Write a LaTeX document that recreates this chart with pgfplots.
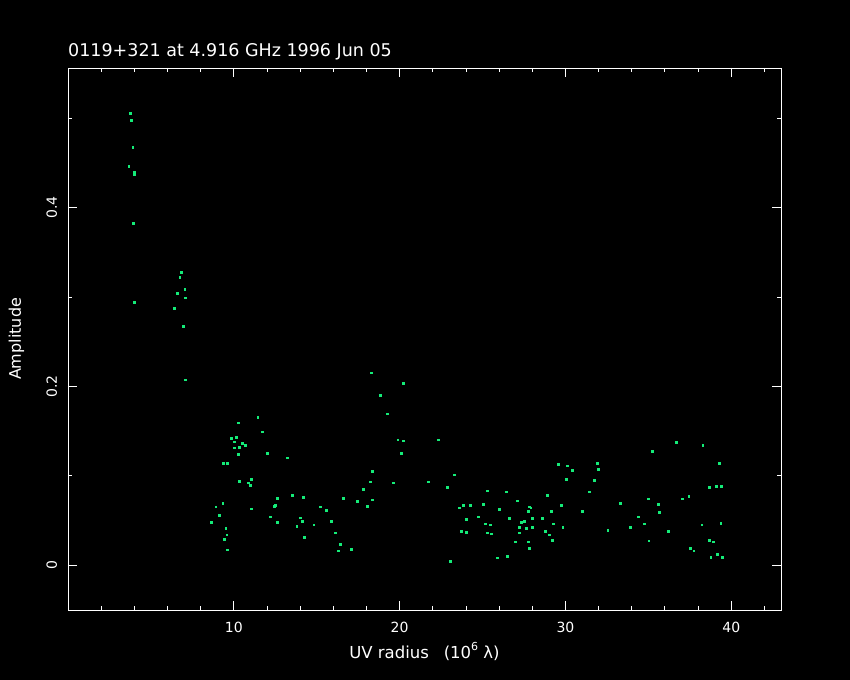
\documentclass[border=0pt]{standalone}
\usepackage{fontspec}
\setmainfont{DejaVu Sans}
\usepackage{pgfplots}
\pgfplotsset{compat=1.18}
\definecolor{pts}{RGB}{20,235,120}
\begin{document}
\begin{tikzpicture}
\useasboundingbox (-68bp,-70bp) rectangle (782bp,610bp);
\fill[black] (-68bp,-70bp) rectangle (782bp,610bp);
\begin{axis}[
  at={(0,0)}, anchor=south west,
  scale only axis, width=713bp, height=542bp,
  xmin=0, xmax=43, ymin=-0.05, ymax=0.556,
  axis line style={white, line width=0.9bp},
  every tick/.style={white, line width=0.9bp},
  tick align=inside,
  major tick length=9bp, minor tick length=4.5bp,
  xtick={10,20,30,40}, xticklabels={10,20,30,40},
  ytick={0,0.2,0.4}, yticklabels={0,0.2,0.4},
  minor xtick={2,4,...,42}, minor ytick={0.1,0.3,0.5},
  tick label style={font=\fontsize{14bp}{16bp}\selectfont, text=white, inner sep=0pt},
  xticklabel style={anchor=north},
  xticklabel shift=12bp,
  yticklabel style={rotate=90, anchor=base},
  yticklabel shift=11bp,
  every axis title/.style={at={(axis description cs:0,1)}, yshift=11bp, anchor=base west, inner sep=0pt, text=white, font=\fontsize{17.5bp}{19bp}\selectfont},
  every axis x label/.style={at={(axis description cs:0.5,0)}, yshift=-48bp, anchor=base, inner sep=0pt, text=white, font=\fontsize{16.5bp}{18bp}\selectfont},
  every axis y label/.style={at={(axis description cs:0,0.5)}, xshift=-47bp, rotate=90, anchor=base, inner sep=0pt, text=white, font=\fontsize{16bp}{18bp}\selectfont},
  title={0119+321 at 4.916 GHz 1996 Jun 05},
  xlabel={UV radius\hspace{0.9em}(10\raisebox{0.45em}{\fontsize{11bp}{11bp}\selectfont 6} λ)},
  ylabel={Amplitude},
]
\addplot[only marks, mark=square*, mark size=0.85bp, color=pts, mark options={draw=pts, line width=0pt}] coordinates {
(3.78,0.505) (3.84,0.497) (3.92,0.467) (3.67,0.446) (4.02,0.439) (4.02,0.437) (3.96,0.382) (4.02,0.294)
(6.85,0.327) (6.75,0.322) (7.05,0.308) (6.61,0.304) (7.09,0.299) (6.43,0.287) (6.97,0.267) (7.09,0.207)
(18.31,0.215) (18.86,0.190) (19.28,0.169) (11.45,0.165) (10.30,0.159) (11.75,0.149) (9.86,0.142) (10.18,0.143)
(10.06,0.138) (10.54,0.136) (10.72,0.134) (10.04,0.131) (10.36,0.132) (10.28,0.124) (12.03,0.125) (13.23,0.120)
(9.38,0.114) (9.62,0.114) (10.36,0.094) (11.07,0.096) (10.90,0.092) (11.02,0.089) (18.37,0.105) (18.25,0.093)
(17.83,0.085) (18.37,0.073) (18.07,0.066) (17.45,0.071) (16.63,0.075) (12.65,0.075) (13.55,0.078) (14.22,0.076)
(9.34,0.069) (8.92,0.065) (9.14,0.056) (8.67,0.048) (11.08,0.063) (12.45,0.066) (12.53,0.067) (12.23,0.054)
(12.65,0.048) (15.24,0.065) (15.58,0.061) (14.04,0.053) (14.16,0.049) (13.81,0.043) (14.84,0.045) (15.89,0.049)
(16.13,0.036) (14.28,0.031) (9.52,0.041) (9.58,0.034) (9.44,0.029) (9.62,0.017) (16.45,0.023) (16.31,0.016)
(17.09,0.018)
(20.24,0.203) (19.90,0.140) (20.22,0.139) (20.10,0.125) (22.35,0.140) (19.64,0.092) (21.75,0.093) (23.31,0.101)
(22.89,0.087) (23.07,0.004) (25.30,0.083) (26.45,0.082) (27.11,0.072) (27.83,0.065) (27.77,0.060) (23.61,0.064)
(23.86,0.067) (24.28,0.067) (25.06,0.068) (26.02,0.062) (24.04,0.051) (24.76,0.054) (25.18,0.046) (25.48,0.045)
(26.63,0.052) (27.35,0.048) (27.53,0.049) (23.73,0.038) (24.04,0.037) (25.32,0.036) (25.54,0.035) (27.23,0.042)
(27.65,0.041) (27.23,0.036) (26.97,0.026) (27.77,0.026) (27.83,0.019) (25.89,0.008) (26.51,0.010)
(29.58,0.113) (30.12,0.111) (30.42,0.106) (30.06,0.096) (31.93,0.114) (31.99,0.107) (31.75,0.095) (31.43,0.082)
(28.92,0.078) (29.76,0.067) (31.01,0.060) (33.31,0.069) (35.00,0.074) (27.93,0.064) (29.16,0.060) (28.01,0.052)
(28.61,0.052) (29.26,0.046) (29.86,0.042) (28.01,0.042) (28.80,0.038) (29.04,0.034) (29.22,0.028) (34.42,0.054)
(34.76,0.046) (33.93,0.042) (32.57,0.039) (35.04,0.027)
(36.69,0.137) (38.30,0.134) (35.24,0.127) (39.30,0.114) (38.67,0.087) (39.10,0.088) (39.40,0.088) (35.60,0.068)
(35.66,0.059) (37.05,0.074) (37.45,0.077) (36.20,0.038) (38.23,0.045) (39.38,0.047) (38.67,0.028) (38.92,0.026)
(37.53,0.019) (37.75,0.016) (38.78,0.009) (39.16,0.012) (39.46,0.009)
};
\end{axis}
\end{tikzpicture}
\end{document}
